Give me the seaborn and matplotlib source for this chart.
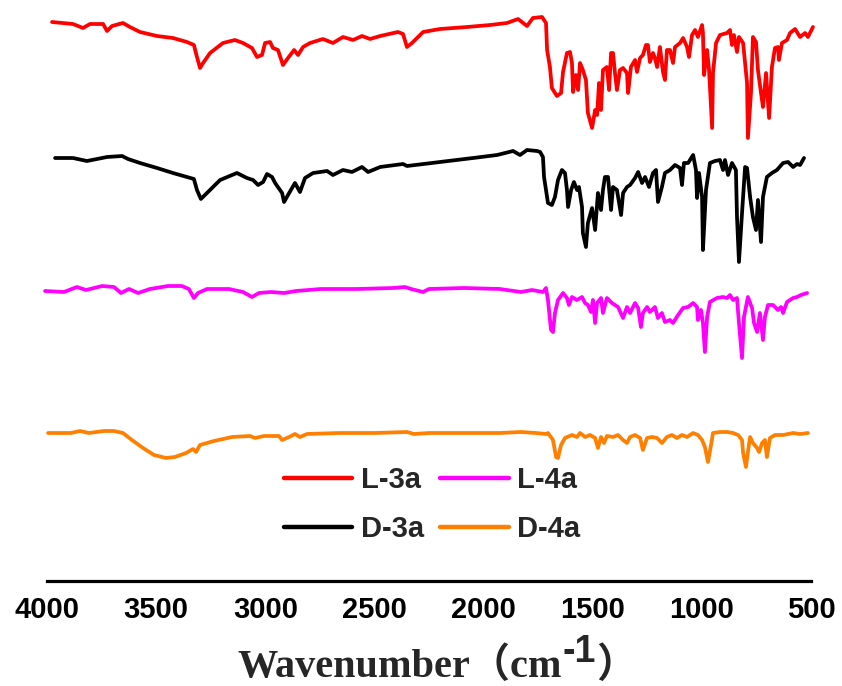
import matplotlib
matplotlib.use("Agg")
import matplotlib.pyplot as plt
from matplotlib.lines import Line2D
import seaborn as sns
import pandas as pd

# ---------------- data ----------------
# wavenumber (cm-1) and transmittance (a.u., curves stacked with offsets)
l3a_wn = [3977, 3881, 3835, 3803, 3743, 3725, 3702, 3652, 3620, 3574, 3496, 3423, 3359, 3327, 3313, 3299,
          3285, 3253, 3194, 3139, 3102, 3061, 3038, 3015, 3001, 2978, 2965, 2942, 2919, 2896, 2868, 2850,
          2827, 2795, 2736, 2690, 2644, 2598, 2557, 2520, 2474, 2392, 2369, 2351, 2328, 2277, 2200, 2076,
          1970, 1893, 1842, 1801, 1774, 1732, 1714, 1709, 1696, 1687, 1664, 1645, 1636, 1618, 1604, 1595,
          1590, 1577, 1567, 1558, 1545, 1531, 1522, 1503, 1489, 1480, 1471, 1462, 1453, 1435, 1425, 1416,
          1407, 1398, 1389, 1375, 1361, 1343, 1338, 1325, 1306, 1297, 1283, 1270, 1256, 1247, 1238, 1224,
          1215, 1205, 1192, 1178, 1169, 1160, 1146, 1132, 1123, 1100, 1086, 1068, 1059, 1045, 1031, 1018,
          999, 995, 990, 976, 967, 953, 949, 935, 917, 885, 871, 862, 853, 839, 830, 811, 793, 789, 775,
          766, 752, 743, 729, 720, 706, 692, 679, 665, 651, 647, 633, 610, 596, 573, 550, 527, 514, 491]
l3a_t = [559, 557, 553, 557, 557, 550, 555, 558, 554, 549, 545, 543, 539, 536, 524, 513,
         518, 528, 538, 541, 538, 533, 524, 526, 538, 539, 533, 531, 516, 523, 531, 526,
         534, 538, 542, 538, 544, 541, 545, 542, 545, 549, 547, 534, 538, 549, 552, 554,
         556, 558, 562, 555, 563, 564, 558, 531, 514, 493, 485, 488, 509, 528, 529, 518,
         489, 506, 491, 518, 511, 501, 468, 453, 471, 466, 498, 471, 511, 514, 491, 528,
         528, 508, 491, 511, 513, 508, 488, 514, 521, 509, 523, 526, 536, 536, 519, 528,
         523, 514, 534, 509, 501, 531, 531, 518, 534, 538, 543, 534, 524, 546, 551, 544,
         556, 548, 506, 531, 511, 453, 508, 538, 546, 548, 551, 536, 546, 529, 544, 538, 498, 443, 488,
         544, 539, 511, 488, 474, 508, 463, 514, 533, 534, 521, 538, 541, 548, 552, 544, 548, 544, 554]

d3a_wn = [3963, 3881, 3817, 3725, 3656, 3629, 3574, 3496, 3423, 3359, 3327, 3313, 3295, 3267, 3207, 3130,
          3084, 3056, 3033, 3010, 2992, 2969, 2955, 2942, 2923, 2914, 2896, 2864, 2841, 2818, 2781, 2717,
          2690, 2644, 2603, 2557, 2529, 2474, 2369, 2351, 2200, 2048, 1938, 1865, 1833, 1801, 1755,
          1741, 1728, 1723, 1714, 1705, 1687, 1673, 1659, 1641, 1627, 1618, 1613, 1599, 1586, 1572, 1563,
          1549, 1545, 1531, 1522, 1503, 1489, 1476, 1462, 1453, 1444, 1430, 1416, 1407, 1389, 1370, 1361,
          1343, 1329, 1306, 1292, 1274, 1260, 1242, 1224, 1210, 1201, 1183, 1169, 1146, 1123, 1100, 1091,
          1082, 1063, 1040, 1027, 1022, 1013, 999, 995, 981, 963, 940, 917, 903, 894, 880, 862, 844, 839,
          830, 816, 802, 793, 779, 766, 752, 743, 729, 720, 702, 679, 656, 628, 605, 582, 564, 550, 532]
d3a_t = [423, 423, 420, 424, 425, 422, 418, 413, 408, 404, 402, 391, 382, 388, 401, 408,
         403, 401, 396, 399, 407, 404, 398, 394, 388, 379, 386, 398, 389, 403, 408, 410,
         406, 411, 409, 414, 409, 414, 417, 415, 419, 423, 426, 430, 426, 431, 430,
         429, 424, 404, 391, 378, 376, 384, 401, 411, 408, 391, 374, 391, 399, 391, 394,
         374, 348, 334, 358, 373, 351, 388, 371, 391, 404, 404, 371, 394, 391, 366, 388,
         394, 396, 403, 409, 398, 404, 394, 408, 411, 379, 394, 408, 411, 416, 413, 396,
         418, 418, 426, 411, 383, 408, 384, 331, 391, 418, 420, 421, 411, 421, 406, 418, 411, 364,
         319, 368, 414, 413, 384, 364, 351, 381, 339, 384, 404, 408, 411, 418, 419, 414, 417, 416, 423]

l4a_wn = [4009, 3922, 3863, 3821, 3748, 3693, 3661, 3624, 3583, 3528, 3446, 3382, 3350, 3327, 3308, 3267,
          3166, 3102, 3061, 3029, 2974, 2914, 2859, 2745, 2580, 2415, 2360, 2332, 2277, 2250, 2090, 1925,
          1829, 1778, 1728, 1714, 1705, 1691, 1682, 1673, 1659, 1636, 1618, 1609, 1595, 1572, 1549, 1535,
          1522, 1508, 1499, 1489, 1480, 1462, 1453, 1435, 1412, 1384, 1361, 1343, 1329, 1306, 1292, 1279,
          1270, 1251, 1238, 1215, 1201, 1183, 1169, 1146, 1132, 1109, 1086, 1063, 1040, 1022, 1018, 1004,
          995, 986, 976, 963, 931, 903, 885, 871, 857, 839, 830, 816, 807, 789, 770, 761, 747, 734, 720,
          711, 697, 674, 651, 637, 628, 610, 582, 564, 546, 518]
l4a_t = [290, 289, 294, 291, 295, 294, 288, 292, 288, 292, 295, 295, 292, 283, 288, 292,
         292, 289, 284, 288, 289, 288, 290, 292, 292, 293, 294, 292, 289, 292, 293, 292,
         289, 291, 289, 293, 281, 251, 249, 268, 281, 288, 283, 276, 284, 281, 284, 278,
         276, 269, 281, 258, 278, 283, 268, 283, 278, 274, 263, 274, 268, 278, 273, 254,
         268, 274, 269, 274, 263, 268, 259, 261, 258, 266, 273, 274, 278, 274, 261, 271,
         258, 229, 264, 279, 283, 284, 283, 286, 281, 283, 258, 223, 264, 284, 273, 258, 249, 268, 241,
         264, 276, 276, 271, 274, 268, 279, 283, 284, 286, 288]

d4a_wn = [3995, 3890, 3849, 3808, 3739, 3693, 3652, 3611, 3560, 3510, 3455, 3414, 3363, 3331, 3317, 3299,
          3235, 3152, 3070, 3047, 3006, 2937, 2923, 2891, 2864, 2841, 2809, 2662, 2497, 2351, 2319, 2250,
          2090, 1925, 1829, 1760, 1714,
          1705, 1682, 1668, 1659, 1645, 1627, 1595, 1572, 1558, 1535, 1512, 1489, 1476, 1462, 1448, 1435,
          1407, 1384, 1361, 1343, 1329, 1306, 1283, 1270, 1251, 1228, 1205, 1183, 1160, 1137, 1114, 1091,
          1068, 1040, 1018, 999, 986, 972, 958, 949, 917, 885, 857, 834, 816, 811, 798, 789, 779, 766,
          747, 738, 724, 711, 702, 688, 665, 628, 582, 550, 514]
d4a_t = [148, 148, 150, 148, 150, 150, 148, 141, 133, 126, 123, 124, 128, 132, 129, 136,
         140, 144, 145, 143, 145, 145, 141, 144, 147, 144, 147, 148, 148, 149, 147, 148,
         148, 148, 149, 148, 147,
         148, 141, 124, 123, 136, 143, 146, 144, 148, 144, 146, 143, 133, 144, 138, 145,
         144, 146, 141, 138, 144, 146, 143, 131, 143, 144, 143, 138, 144, 146, 143, 146,
         144, 148, 146, 141, 134, 119, 136, 148, 149, 149, 148, 146, 141, 128, 114, 129, 144, 138,
         133, 129, 138, 141, 124, 143, 146, 146, 148, 147, 148]

labels = ["L-3a", "D-3a", "L-4a", "D-4a"]
colors = {"L-3a": "#FF0000", "D-3a": "#000000", "L-4a": "#FF00FF", "D-4a": "#FF8000"}

frames = []
for name, wn, tr in [("L-3a", l3a_wn, l3a_t), ("D-3a", d3a_wn, d3a_t),
                     ("L-4a", l4a_wn, l4a_t), ("D-4a", d4a_wn, d4a_t)]:
    n = min(len(wn), len(tr))
    frames.append(pd.DataFrame({"wavenumber": wn[:n], "T": tr[:n], "sample": name}))
df = pd.concat(frames, ignore_index=True)

# ---------------- figure ----------------
sns.set_style("white")
plt.rcParams["font.family"] = ["Liberation Sans", "DejaVu Sans"]

W, H, DPI = 842, 686, 100
fig = plt.figure(figsize=(W / DPI, H / DPI), dpi=DPI)
ax_bottom_px = 581
ax = fig.add_axes([47 / W, (H - ax_bottom_px) / H, (811 - 47) / W, ax_bottom_px / H])

sns.lineplot(data=df, x="wavenumber", y="T", hue="sample", hue_order=labels,
             palette=colors, estimator=None, sort=True, lw=2.7, legend=False,
             ax=ax, clip_on=False)

ax.set_xlim(4000, 500)
ax.set_ylim(0, ax_bottom_px)
ax.set_xticks([4000, 3500, 3000, 2500, 2000, 1500, 1000, 500])
ax.set_xticks([3750, 3250, 2750, 2250, 1750, 1250, 750], minor=True)
ax.set_yticks([])
ax.set_xlabel("")
ax.set_ylabel("")
for s in ["top", "left", "right"]:
    ax.spines[s].set_visible(False)
ax.spines["bottom"].set_linewidth(2.3)
ax.spines["bottom"].set_color("black")
ax.tick_params(axis="x", which="major", direction="out", length=7, width=2.3,
               labelsize=21, pad=4, colors="black")
ax.tick_params(axis="x", which="minor", direction="out", length=4, width=2.3)
for lab in ax.get_xticklabels():
    lab.set_fontweight("bold")
ax.patch.set_alpha(0)

# legend
handles = [Line2D([], [], color=colors[l], lw=3.2) for l in labels]
leg = fig.legend(handles, labels, ncol=2, loc="center",
                 bbox_to_anchor=(0.513, 0.265), frameon=False,
                 prop={"family": "Liberation Sans", "weight": "bold", "size": 21},
                 handlelength=2.35, handletextpad=0.3, columnspacing=0.55,
                 labelspacing=0.72, borderpad=0)

# x-axis label built from pieces (serif text, CJK full-width brackets, raised "-1")
serif = ["Liberation Serif", "Noto Sans CJK SC"]
y_base = 1 - 677 / H
t1 = fig.text(0, y_base, "Wavenumber（cm", family=serif, weight="bold", size=29, va="baseline")
t2 = fig.text(0, y_base + 15 / H, "-1", family=["Liberation Sans"], weight="bold", size=27, va="baseline")
t3 = fig.text(0, y_base, "）", family=serif, weight="bold", size=29, va="baseline")
fig.canvas.draw()
r = fig.canvas.get_renderer()
w1 = t1.get_window_extent(r).width
w2 = t2.get_window_extent(r).width
w3 = t3.get_window_extent(r).width
total = w1 + w2 + w3
x0 = 436 - total / 2
t1.set_x(x0 / W)
t2.set_x((x0 + w1 + 1) / W)
t3.set_x((x0 + w1 + w2 + 1) / W)

fig.savefig("out.png", dpi=DPI, facecolor="white")
